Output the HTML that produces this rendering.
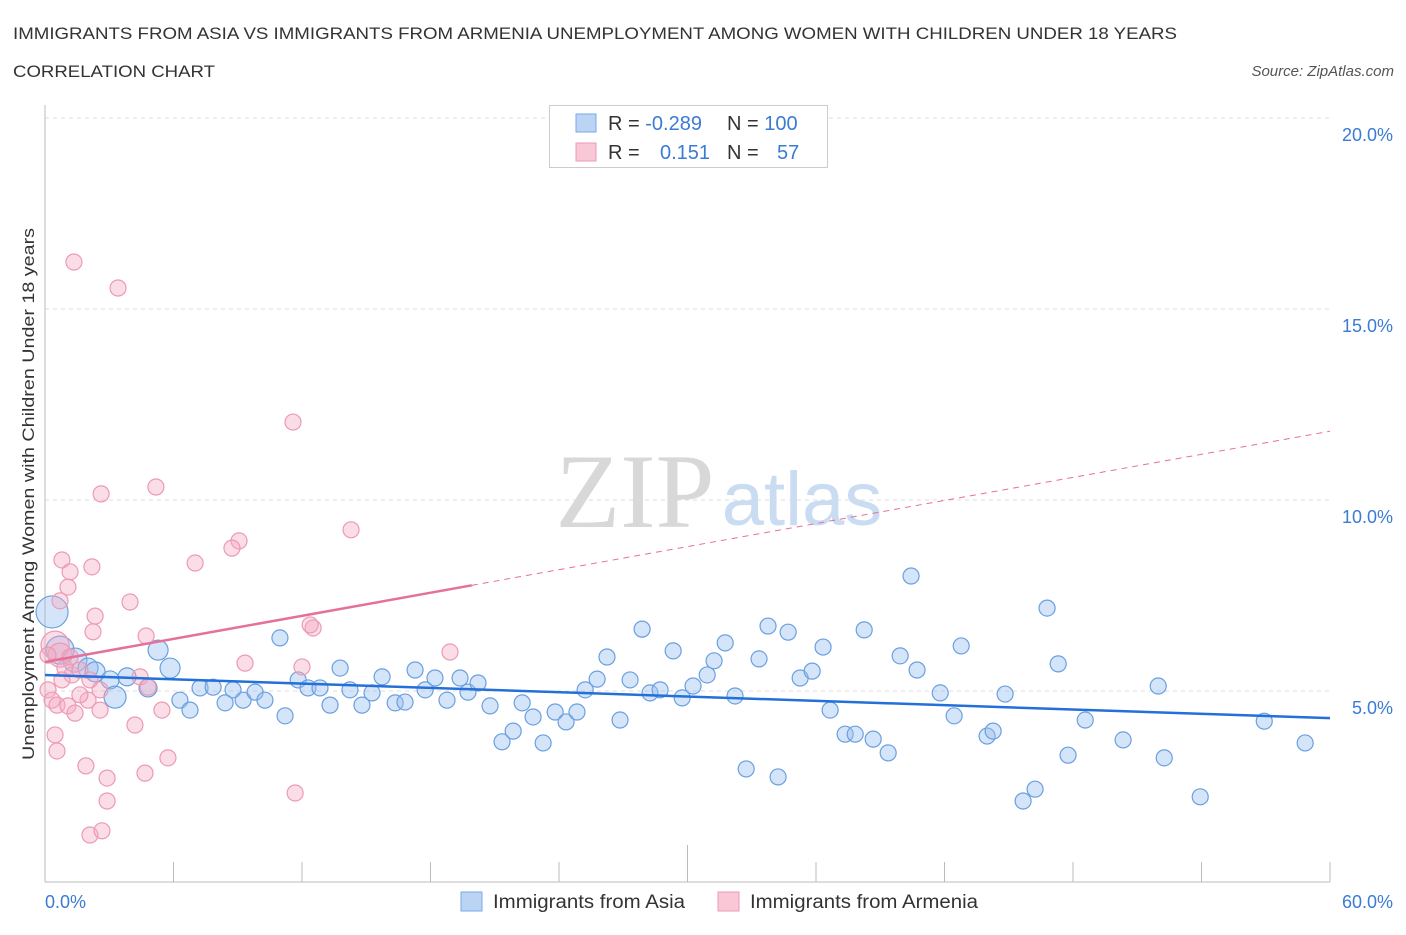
<!DOCTYPE html>
<html><head><meta charset="utf-8"><style>
body{margin:0;background:#fff;font-family:"Liberation Sans",sans-serif;}
</style></head><body>
<svg id="chart" width="1406" height="930" xmlns="http://www.w3.org/2000/svg">
<text x="13" y="39" font-size="17" fill="#333" textLength="1164" lengthAdjust="spacingAndGlyphs">IMMIGRANTS FROM ASIA VS IMMIGRANTS FROM ARMENIA UNEMPLOYMENT AMONG WOMEN WITH CHILDREN UNDER 18 YEARS</text>
<text x="13" y="77" font-size="17" fill="#333" textLength="202" lengthAdjust="spacingAndGlyphs">CORRELATION CHART</text>
<text x="1394" y="76" font-size="15" fill="#555" font-style="italic" text-anchor="end">Source: ZipAtlas.com</text>
<g>
<text x="635" y="527" font-size="106" font-family="Liberation Serif,serif" fill="#d8d8d8" text-anchor="middle">ZIP</text>
<text x="802" y="525" font-size="76" fill="#c9dcf2" text-anchor="middle">atlas</text>
</g>
<g id="grid"></g>
<g id="axes"></g>
<g id="marks"></g>
<g id="trends"></g>
<text transform="translate(34,494) rotate(-90)" font-size="17" fill="#333" text-anchor="middle" textLength="532" lengthAdjust="spacingAndGlyphs">Unemployment Among Women with Children Under 18 years</text>
<text x="45" y="908" font-size="18" fill="#3a7bd5">0.0%</text>
<text x="1393" y="908" font-size="18" fill="#3a7bd5" text-anchor="end">60.0%</text>
<g>
<rect x="549.5" y="105.5" width="278" height="62" fill="#fff" stroke="#ccc"/>
<rect x="576" y="114" width="20" height="18" fill="#bcd4f4" stroke="#7aa8e8"/>
<rect x="576" y="143" width="20" height="18" fill="#f8c8d6" stroke="#ec9ab3"/>
<text x="608" y="130" font-size="20" fill="#333">R = <tspan fill="#3a7bd5">-0.289</tspan><tspan x="727">N = </tspan><tspan fill="#3a7bd5">100</tspan></text>
<text x="608" y="159" font-size="20" fill="#333">R = <tspan x="660" fill="#3a7bd5">0.151</tspan><tspan x="727">N = </tspan><tspan x="777" fill="#3a7bd5">57</tspan></text>
</g>
<g>
<rect x="461" y="892" width="21" height="19" fill="#bcd4f4" stroke="#7aa8e8"/>
<text x="493" y="908" font-size="19" fill="#333" textLength="192" lengthAdjust="spacingAndGlyphs">Immigrants from Asia</text>
<rect x="718" y="892" width="21" height="19" fill="#f8c8d6" stroke="#ec9ab3"/>
<text x="750" y="908" font-size="19" fill="#333" textLength="228" lengthAdjust="spacingAndGlyphs">Immigrants from Armenia</text>
</g>
</svg>
<script>
const yTicks=[5,10,15,20];
const yTickLabels=["5.0%","10.0%","15.0%","20.0%"];
const xTicks=[0,6,12,18,24,30,36,42,48,54,60];
const asiaX=[0.33,0.70,1.40,2.01,2.34,3.04,3.27,3.83,4.81,5.28,5.84,6.30,6.77,7.24,7.85,8.41,8.78,9.25,9.81,10.27,10.97,11.21,11.82,12.28,12.84,13.31,13.78,14.24,14.80,15.27,15.74,16.35,16.81,17.28,17.75,18.21,18.77,19.38,19.75,20.22,20.78,21.34,21.86,22.28,22.79,23.26,23.82,24.33,24.84,25.22,25.78,26.24,26.85,27.32,27.88,28.25,28.72,29.33,29.75,30.26,30.92,31.24,31.76,32.22,32.74,33.34,33.76,34.23,34.70,35.26,35.82,36.33,36.66,37.36,37.83,38.25,38.67,39.37,39.93,40.44,40.72,41.80,42.45,42.78,43.99,44.27,44.83,45.67,46.23,46.79,47.31,47.77,48.57,50.34,51.98,52.26,53.94,56.93,58.84];
const asiaY=[7.07,6.07,5.81,5.60,5.50,5.29,4.84,5.37,5.08,6.07,5.60,4.76,4.50,5.08,5.10,4.69,5.03,4.76,4.97,4.76,6.39,4.35,5.29,5.08,5.08,4.63,5.60,5.03,4.63,4.95,5.37,4.69,4.71,5.55,5.03,5.34,4.76,5.34,4.97,5.21,4.61,3.67,3.95,4.69,4.32,3.64,4.45,4.19,4.45,5.03,5.31,5.89,4.24,5.29,6.62,4.95,5.03,6.05,4.82,5.13,5.42,5.79,6.26,4.87,2.96,5.84,6.70,2.75,6.54,5.34,5.52,6.15,4.50,3.87,3.87,6.60,3.74,3.38,5.92,8.01,5.55,4.95,4.35,6.18,3.82,3.95,4.92,2.12,2.43,7.17,5.71,3.32,4.24,3.72,5.13,3.25,2.23,4.21,3.64];
const asiaSize=[16,14,12,10,10,9,11,9,9,10,10];
const armX=[1.35,3.41,11.58,2.62,5.18,14.29,9.06,8.73,7.01,0.79,2.19,1.17,1.07,3.97,0.70,2.34,2.24,4.72,12.52,12.38,18.91,9.34,12.00,0.47,0.70,0.14,0.93,1.26,1.63,2.10,2.57,0.14,0.33,0.56,1.07,1.40,2.01,2.57,4.44,4.81,5.46,4.20,0.47,0.56,1.91,2.90,5.74,4.67,2.90,11.68,2.10,2.66,1.17,0.79,1.63];
const armY=[16.23,15.55,12.04,10.16,10.34,9.22,8.93,8.74,8.35,8.43,8.25,8.12,7.72,7.33,7.36,6.96,6.55,6.44,6.65,6.73,6.02,5.73,5.63,6.20,5.94,5.94,5.60,5.42,5.55,5.29,5.03,5.03,4.76,4.63,4.61,4.42,4.76,4.50,5.37,5.10,4.50,4.11,3.85,3.43,3.04,2.72,3.25,2.85,2.12,2.33,1.23,1.34,5.89,5.29,4.90];
const armSize={23:14,24:12};
const asiaTrend=[5.42,4.29];
const armTrend=[5.76,11.8];
const armSolidEnd=19.93;

const NS="http://www.w3.org/2000/svg";
const X0=45,X1=1330,Y0=882,PX=38.2;
const sx=v=>X0+(X1-X0)*v/60;
const sy=v=>Y0-v*PX;
function mk(tag,attrs,parent){const e=document.createElementNS(NS,tag);for(const k in attrs)e.setAttribute(k,attrs[k]);parent.appendChild(e);return e;}
const grid=document.getElementById('grid'),axes=document.getElementById('axes'),marks=document.getElementById('marks'),trends=document.getElementById('trends');
yTicks.forEach((t,i)=>{
 const l=mk('line',{x1:X0,x2:X1,y1:sy(t),y2:sy(t),stroke:'#ddd','stroke-dasharray':'4,4'},grid);
 
 
 const tx=mk('text',{x:1393,y:sy(t)+23,'font-size':18,fill:'#3a7bd5','text-anchor':'end'},axes);
 tx.textContent=yTickLabels[i];
 
 
});
mk('line',{x1:X0,x2:X0,y1:105,y2:Y0,stroke:'#bbb'},axes);
mk('line',{x1:X0,x2:X1,y1:Y0,y2:Y0,stroke:'#bbb'},axes);
xTicks.forEach(t=>{
 const l=mk('line',{x1:sx(t),x2:sx(t),y1:t===30?845:862,y2:Y0,stroke:'#bbb'},axes);
 
 
});
asiaX.forEach((x,i)=>{
 const c=mk('circle',{cx:sx(x),cy:sy(asiaY[i]),r:asiaSize[i]||8,fill:'rgba(150,190,240,0.4)',stroke:'#6a9fe0','stroke-width':1.2},marks);
 
 
});
armX.forEach((x,i)=>{
 const c=mk('circle',{cx:sx(x),cy:sy(armY[i]),r:armSize[i]||8,fill:'rgba(245,170,195,0.4)',stroke:'#ec9ab3','stroke-width':1.2},marks);
 
 
});
const bl=mk('line',{x1:sx(0),y1:sy(asiaTrend[0]),x2:sx(60),y2:sy(asiaTrend[1]),stroke:'#2370d8','stroke-width':2.5},trends);


const armAt=x=>armTrend[0]+(armTrend[1]-armTrend[0])*x/60;
const ps=mk('line',{x1:sx(0),y1:sy(armTrend[0]),x2:sx(armSolidEnd),y2:sy(armAt(armSolidEnd)),stroke:'#e5709a','stroke-width':2.5},trends);


const pd=mk('line',{x1:sx(armSolidEnd),y1:sy(armAt(armSolidEnd)),x2:sx(60),y2:sy(armTrend[1]),stroke:'#e5709a','stroke-width':1,'stroke-dasharray':'6,5'},trends);


</script>
</body></html>
